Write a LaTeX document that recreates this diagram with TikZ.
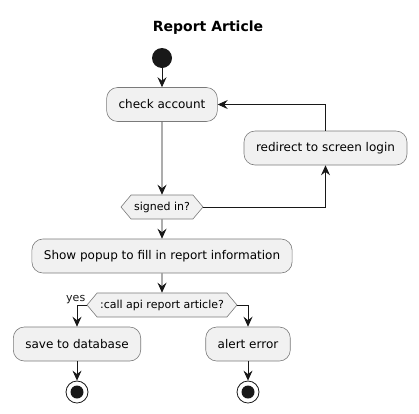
\documentclass[tikz,border=0pt]{standalone}
\usepackage{fontspec}
\setmainfont{DejaVu Sans}
\usepackage{tikz}
\usetikzlibrary{arrows.meta,shapes.symbols}

\definecolor{boxfill}{HTML}{F1F1F1}
\definecolor{boxline}{HTML}{7A7A7A}
\definecolor{ink}{HTML}{181818}

\begin{document}
\begin{tikzpicture}[x=1pt, y=-1pt,
  act/.style={draw=boxline, fill=boxfill, line width=0.6pt, rounded corners=11pt,
    minimum height=34pt, inner xsep=12pt, font=\fontsize{12}{14}\selectfont},
  cond/.style={signal, signal to=west and east, signal pointer angle=100,
    draw=boxline, fill=boxfill, line width=0.6pt, minimum height=24pt,
    inner xsep=3pt, inner ysep=0pt, font=\fontsize{11}{13}\selectfont},
  arr/.style={ink, line width=0.8pt, -{Stealth[length=10pt,width=9pt,inset=3.5pt]}}]

\useasboundingbox (0,0) rectangle (419,413);

\node[font=\bfseries\fontsize{14}{16}\selectfont] (title) at (208,28) {Report Article};

%start and first step
\node[circle, fill=ink, minimum size=20pt, inner sep=0pt] (start) at (162,58) {};
\node[act] (check) at (162,104.5) {check account};
\node[act] (redirect) at (325.5,148) {redirect to screen login};
\node[cond] (signed) at (162,207) {signed in?};

\draw[arr] (start) -- (check);
\draw[arr] (check) -- (signed);
\draw[arr] (signed.east) -| (redirect.south);
\draw[arr] (redirect.north) |- (check.east);

%report
\node[act] (popup) at (162,256) {Show popup to fill in report information};
\node[cond] (call) at (162,305) {:call api report article?};

\draw[arr] (signed) -- (popup);
\draw[arr] (popup) -- (call);

%branches
\node[act] (save) at (77,344) {save to database};
\node[act] (alert) at (248,344) {alert error};

\draw[arr] (call.west) -| (save.north) node[pos=0, above left, inner sep=1pt, font=\fontsize{11}{13}\selectfont] {yes};
\draw[arr] (call.east) -| (alert.north);

%ends
\foreach \name/\xx in {stopA/77, stopB/248} {
  \node[circle, draw=ink, fill=white, line width=0.8pt, minimum size=22pt, inner sep=0pt] (\name) at (\xx,392) {};
  \fill[ink] (\name) circle (6.5pt);
}

\draw[arr] (save) -- (stopA);
\draw[arr] (alert) -- (stopB);

\end{tikzpicture}
\end{document}
